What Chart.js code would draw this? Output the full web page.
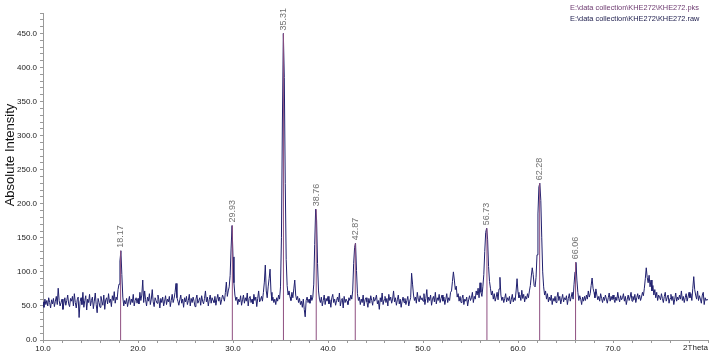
<!DOCTYPE html>
<html>
<head>
<meta charset="utf-8">
<script src="https://cdn.jsdelivr.net/npm/chart.js@4.4.0/dist/chart.umd.min.js"></script>
<style>
html, body { margin: 0; padding: 0; background: #fff; }
#wrap { width: 709px; height: 354px; position: relative; }
</style>
</head>
<body>
<div id="wrap"><canvas id="xrd"></canvas></div>
<script>
// raw scan, 10.0 - 80.0 deg 2Theta in 0.1 deg steps, counts
var scanStart = 10.0;
var scanStep = 0.1;

var counts10 = [
  56, 48, 60, 52, 58, 50, 62, 55, 47, 59,
  53, 61, 49, 57, 64, 52, 76, 58, 50, 55,
  60, 45, 54, 62, 51, 58, 66, 53, 49, 61,
  57, 64, 50, 68, 55, 47, 59, 63, 33, 56,
  62, 52, 70, 48, 58, 65, 44, 60, 55, 67,
  50, 58, 63, 46, 57, 69, 52, 40, 61, 55,
  48, 64, 57, 51, 66, 45, 59, 62, 53, 68,
  55, 60, 49, 65, 58, 71, 54, 63, 59, 74,
  82, 116, 131, 96, 63, 50, 58, 53, 61, 49,
  57, 64, 52, 60, 55, 67, 50, 58, 62, 54
];
var counts20 = [
  61, 53, 70, 58, 66, 88, 55, 72, 59, 50,
  63, 57, 68, 52, 60, 74, 56, 49, 62, 58,
  54, 66, 59, 47, 61, 55, 63, 50, 57, 65,
  52, 60, 56, 64, 49, 58, 67, 55, 61, 70,
  83, 62, 57, 51, 59, 66, 54, 60, 48, 62,
  56, 64, 52, 58, 67, 50, 61, 55, 63, 57,
  49, 60, 66, 54, 58, 62, 51, 65, 57, 53,
  61, 72, 56, 63, 50, 59, 66, 54, 62, 58,
  55, 64, 51, 60, 67, 57, 63, 52, 59, 66,
  62, 57, 70, 85, 64, 72, 78, 95, 135, 168
];
var counts30 = [
  122, 84, 66, 58, 63, 52, 60, 56, 65, 51,
  59, 66, 54, 62, 57, 69, 50, 61, 64, 55,
  60, 53, 67, 58, 63, 49, 61, 72, 56, 59,
  64, 57, 70, 85, 110, 72, 62, 78, 90, 104,
  70, 58, 63, 55, 60, 52, 62, 57, 66, 60,
  78, 150, 320, 450, 385, 230, 118, 80, 66, 72,
  63, 58, 70, 62, 75, 88, 66, 59, 64, 55,
  61, 52, 57, 48, 60, 45, 34, 58, 63, 55,
  60, 54, 66, 58, 63, 82, 140, 192, 176, 112,
  72, 60, 55, 63, 50, 58, 66, 52, 61, 57
];
var counts40 = [
  64, 53, 59, 48, 62, 67, 55, 60, 51, 58,
  63, 56, 69, 50, 58, 61, 47, 64, 55, 60,
  57, 52, 62, 58, 66, 60, 72, 112, 136, 142,
  102, 68, 58, 63, 52, 60, 55, 66, 50, 59,
  62, 56, 48, 61, 54, 65, 58, 51, 63, 57,
  60, 66, 53, 58, 45, 62, 56, 69, 52, 59,
  64, 55, 61, 50, 67, 58, 63, 54, 60, 72,
  56, 62, 51, 59, 66, 53, 60, 48, 57, 63,
  55, 61, 52, 58, 64, 50, 57, 62, 98, 82,
  66, 58, 63, 54, 70, 60, 56, 65, 59, 62
];
var counts50 = [
  57, 68, 52, 61, 74, 55, 63, 58, 66, 51,
  60, 64, 56, 70, 53, 62, 58, 67, 55, 61,
  66, 57, 63, 52, 60, 68, 55, 62, 58, 70,
  72, 86, 100, 88, 74, 79, 63, 68, 57, 64,
  55, 61, 66, 52, 60, 57, 63, 50, 59, 65,
  58, 62, 70, 55, 64, 60, 72, 66, 76, 62,
  84, 70, 64, 78, 96, 130, 158, 164, 148, 108,
  86, 76, 66, 72, 60, 68, 57, 63, 70, 59,
  75, 92, 66, 58, 63, 55, 61, 68, 56, 62,
  58, 64, 53, 60, 67, 56, 62, 58, 72, 90
];
var counts60 = [
  70, 62, 66, 58, 73, 61, 67, 56, 64, 60,
  68, 62, 72, 80, 94, 106, 96, 80, 78, 92,
  125, 185, 225, 230, 205, 150, 100, 78, 66, 72,
  60, 68, 56, 63, 58, 66, 52, 61, 57, 64,
  55, 62, 70, 58, 64, 53, 60, 67, 56, 62,
  59, 65, 52, 61, 68, 57, 63, 70, 60, 82,
  100, 114, 88, 70, 58, 65, 60, 52, 63, 57,
  64, 58, 66, 60, 72, 63, 68, 80, 91, 76,
  70, 62, 75, 66, 59, 64, 57, 68, 61, 55,
  63, 58, 66, 60, 54, 62, 69, 57, 64, 59
];
var counts70 = [
  66, 60, 55, 63, 58, 70, 61, 56, 65, 59,
  62, 68, 57, 64, 52, 60, 66, 58, 63, 70,
  57, 64, 59, 67, 55, 62, 68, 60, 66, 58,
  63, 70, 65, 76, 90, 106, 92, 84, 95, 78,
  88, 72, 80, 66, 74, 62, 70, 58, 66, 63,
  59, 68, 61, 55, 64, 70, 57, 62, 66, 54,
  61, 67, 58, 64, 52, 60, 69, 57, 63, 59,
  66, 60, 72, 58, 64, 55, 62, 68, 57, 63,
  70, 62, 68, 58, 76, 93, 74, 66, 60, 72,
  58, 65, 60, 54, 66, 70, 52, 62, 58, 60,
  58
];

// peak list (.pks)
var peakPos = [18.17, 29.93, 35.31, 38.76, 42.87, 56.73, 62.28, 66.06];
var peakHeight = [131, 168, 450, 192, 142, 164, 230, 114];
var peakText = ['18.17', '29.93', '35.31', '38.76', '42.87', '56.73', '62.28', '66.06'];

var fileNames = ['E:\\data collection\\KHE272\\KHE272.pks', 'E:\\data collection\\KHE272\\KHE272.raw'];

var counts = [].concat(counts10, counts20, counts30, counts40, counts50, counts60, counts70);
var trace = counts.map(function (c, i) {
  return { x: +(scanStart + i * scanStep).toFixed(1), y: c };
});

var sticks = [];
peakPos.forEach(function (p, i) {
  sticks.push({ x: p, y: 0 }, { x: p, y: peakHeight[i] }, { x: p, y: null });
});

var FONT = '"Liberation Sans", Arial, sans-serif';

var annotate = {
  id: 'annotate',
  afterDraw: function (chart) {
    var ctx = chart.ctx, xs = chart.scales.x, ys = chart.scales.y;
    ctx.save();
    // peak labels
    ctx.font = '9px ' + FONT;
    ctx.fillStyle = '#707070';
    ctx.textAlign = 'left';
    ctx.textBaseline = 'middle';
    peakPos.forEach(function (p, i) {
      ctx.save();
      ctx.translate(xs.getPixelForValue(p), ys.getPixelForValue(peakHeight[i]) - 3);
      ctx.rotate(-Math.PI / 2);
      ctx.fillText(peakText[i], 0, 0);
      ctx.restore();
    });
    // axis title
    ctx.save();
    ctx.translate(10, 155);
    ctx.rotate(-Math.PI / 2);
    ctx.font = '13px ' + FONT;
    ctx.fillStyle = '#111';
    ctx.textAlign = 'center';
    ctx.fillText('Absolute Intensity', 0, 0);
    ctx.restore();
    // 2Theta at end of x axis
    ctx.font = '8px ' + FONT;
    ctx.fillStyle = '#222';
    ctx.textAlign = 'right';
    ctx.textBaseline = 'middle';
    ctx.fillText('2Theta', 708, 348);
    // file names
    ctx.font = '7.4px ' + FONT;
    ctx.textAlign = 'left';
    ctx.fillStyle = '#6d3a70';
    ctx.fillText(fileNames[0], 570, 8);
    ctx.fillStyle = '#1c1c4c';
    ctx.fillText(fileNames[1], 570, 19);
    ctx.restore();
  }
};

var chart_xrd = new Chart(document.getElementById('xrd'), {
  type: 'line',
  data: {
    datasets: [
      {
        label: 'KHE272.pks',
        data: sticks,
        borderColor: '#8e4f80',
        borderWidth: 1,
        pointRadius: 0,
        spanGaps: false,
        order: 1
      },
      {
        label: 'KHE272.raw',
        data: trace,
        borderColor: '#1f1f6e',
        borderWidth: 1,
        pointRadius: 0,
        tension: 0,
        order: 2
      }
    ]
  },
  options: {
    animation: false,
    responsive: true,
    maintainAspectRatio: false,
    layout: { padding: { top: 13, right: 1, left: 0, bottom: 0 } },
    plugins: {
      legend: { display: false },
      tooltip: { enabled: false },
      title: { display: false }
    },
    scales: {
      x: {
        type: 'linear',
        min: 10,
        max: 80,
        afterFit: function (s) { s.height = 14; },
        border: { color: '#9a9a9a' },
        grid: { drawOnChartArea: false, tickLength: 3, tickColor: '#9a9a9a' },
        ticks: {
          stepSize: 2,
          autoSkip: false,
          maxRotation: 0,
          padding: 1,
          color: '#222',
          font: { family: FONT, size: 8 },
          callback: function (v) { return (v % 10 === 0 && v < 80) ? v.toFixed(1) : ''; }
        }
      },
      y: {
        type: 'linear',
        min: 0,
        max: 480,
        afterFit: function (s) { s.width = 43; },
        border: { color: '#9a9a9a' },
        grid: { drawOnChartArea: false, tickLength: 3, tickColor: '#9a9a9a' },
        ticks: {
          stepSize: 10,
          autoSkip: false,
          padding: 3,
          color: '#222',
          font: { family: FONT, size: 8 },
          callback: function (v) { return v % 50 === 0 ? v.toFixed(1) : ''; }
        }
      }
    }
  },
  plugins: [annotate]
});
</script>
</body>
</html>
